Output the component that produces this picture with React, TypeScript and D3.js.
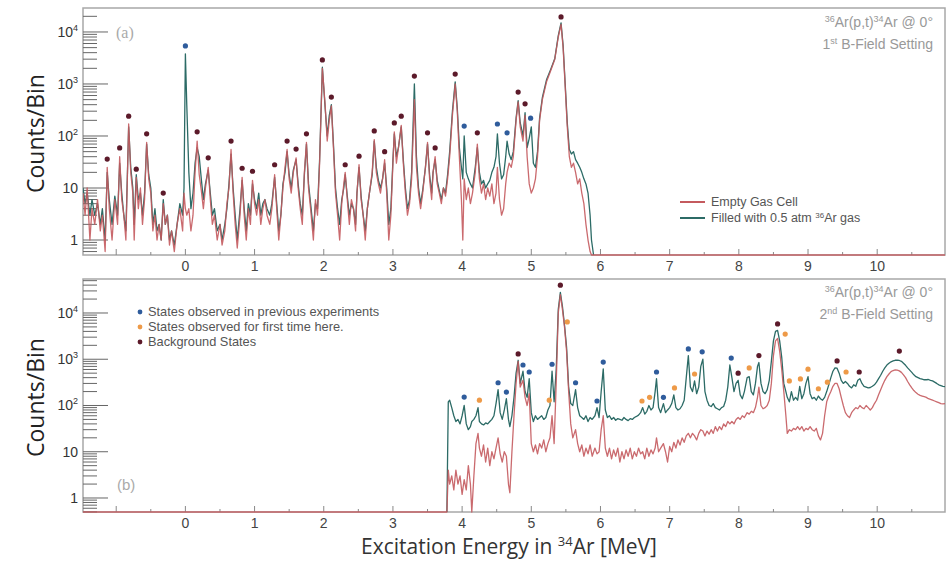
import React, { useEffect, useRef } from 'react';
import * as d3 from 'd3';

const W = 948;
const H = 562;
const NaNv = NaN;

// ---------- Panel (a): 1st B-field setting ----------
const TOP_E = [
  -1.48, -1.45, -1.42, -1.38, -1.35, -1.31, -1.27, -1.23, -1.2, -1.16,
  -1.13, -1.1, -1.06, -1.02, -0.98, -0.95, -0.92, -0.89, -0.86, -0.82,
  -0.79, -0.76, -0.74, -0.71, -0.68, -0.65, -0.62, -0.59, -0.56, -0.53,
  -0.5, -0.47, -0.44, -0.41, -0.38, -0.35, -0.32, -0.29, -0.26, -0.23,
  -0.2, -0.16, -0.12, -0.08, -0.04, -0.02, 0.0, 0.02, 0.05, 0.08,
  0.11, 0.14, 0.17, 0.2, 0.23, 0.26, 0.29, 0.33, 0.36, 0.39,
  0.42, 0.46, 0.5, 0.53, 0.57, 0.6, 0.63, 0.66, 0.69, 0.72,
  0.75, 0.79, 0.82, 0.85, 0.88, 0.91, 0.94, 0.97, 1.0, 1.03,
  1.06, 1.09, 1.12, 1.15, 1.18, 1.22, 1.25, 1.29, 1.32, 1.35,
  1.38, 1.41, 1.44, 1.47, 1.5, 1.53, 1.56, 1.6, 1.63, 1.66,
  1.69, 1.72, 1.75, 1.78, 1.81, 1.85, 1.88, 1.91, 1.94, 1.98,
  2.02, 2.05, 2.08, 2.11, 2.14, 2.17, 2.2, 2.23, 2.26, 2.29,
  2.31, 2.34, 2.37, 2.4, 2.43, 2.46, 2.48, 2.51, 2.54, 2.57,
  2.6, 2.63, 2.66, 2.7, 2.73, 2.76, 2.79, 2.82, 2.85, 2.88,
  2.91, 2.94, 2.97, 3.0, 3.02, 3.05, 3.08, 3.12, 3.15, 3.18,
  3.21, 3.24, 3.27, 3.31, 3.34, 3.37, 3.4, 3.43, 3.47, 3.5,
  3.53, 3.56, 3.58, 3.61, 3.64, 3.67, 3.7, 3.73, 3.76, 3.79,
  3.82, 3.86, 3.9, 3.93, 3.96, 3.99, 4.01, 4.03, 4.06, 4.09,
  4.12, 4.15, 4.19, 4.22, 4.25, 4.28, 4.31, 4.34, 4.37, 4.4,
  4.43, 4.46, 4.49, 4.51, 4.54, 4.57, 4.6, 4.63, 4.65, 4.68,
  4.71, 4.74, 4.78, 4.81, 4.84, 4.88, 4.91, 4.94, 4.97, 5.0,
  5.03, 5.06, 5.09, 5.12, 5.16, 5.22, 5.28, 5.34, 5.39, 5.43,
  5.46, 5.49, 5.52, 5.55, 5.58, 5.61, 5.64, 5.67, 5.7, 5.73,
  5.76, 5.79, 5.82, 5.85, 5.87, 5.9, 10.98,
];
const TOP_EMPTY = [
  8, 3, 10, 1, 4, 2, 6, 1.5, 3, 0.6,
  25, 4, 1, 6, 2, 40, 6, 3, 1, 170,
  20, 8, 1, 16, 4, 10, 2, 6, 75, 15,
  8, 1.5, 3, 1, 2, 1, 5, 2, 3, 0.8,
  1.5, 0.6, 2, 4, 1.5, 8, 4, 3, 4, 1.5,
  3, 20, 80, 18, 9, 4, 10, 25, 6, 2,
  3, 1, 2, 0.8, 1.5, 5, 10, 55, 8, 2,
  0.7, 3, 16, 3, 1, 4, 2, 14, 5, 3,
  6, 2, 4, 6, 3, 2, 4, 18, 4, 1,
  3, 10, 25, 55, 15, 8, 20, 38, 10, 4,
  2, 20, 75, 10, 4, 1, 6, 3, 30, 2000,
  400, 80, 200, 380, 60, 8, 3, 1, 5, 12,
  20, 6, 2, 6, 4, 1.5, 8, 28, 6, 3,
  1, 4, 8, 20, 85, 20, 12, 8, 15, 35,
  8, 1, 3, 30, 120, 30, 60, 160, 30, 8,
  3, 5, 15, 500, 25, 8, 4, 8, 25, 75,
  15, 6, 20, 40, 12, 8, 5, 10, 7, 15,
  40, 250, 1000, 300, 40, 6, 1, 15, 6, 10,
  5, 8, 20, 70, 15, 8, 12, 6, 10, 7,
  12, 5, 8, 25, 6, 3, 4, 12, 20, 30,
  25, 40, 200, 450, 150, 80, 250, 40, 12, 8,
  10, 15, 40, 200, 500, 1100, 1800, 3000, 8000, 14000,
  5000, 900, 150, 40, 25, 30, 20, 12, 15, 8,
  5, 2, 1, 0.6, 0, 0, 0,
];
const TOP_FILLED = [
  10, 5, 8, 3, 6, 3, 5, 2, 4, 1,
  20, 6, 2, 7, 3, 30, 8, 3, 1.5, 150,
  25, 10, 2, 18, 6, 8, 3, 8, 70, 18,
  10, 2, 4, 1.5, 2, 1, 6, 2, 3, 1,
  1.5, 0.8, 2, 5, 3, 10, 3800, 400, 20, 4,
  8, 30, 60, 40, 15, 6, 12, 22, 8, 3,
  4, 1.5, 2, 1, 2, 4, 12, 45, 10, 3,
  1, 4, 14, 4, 1.5, 5, 3, 12, 6, 4,
  8, 3, 5, 6, 4, 3, 5, 16, 5, 1.5,
  3, 12, 20, 50, 18, 10, 22, 35, 12, 5,
  3, 18, 70, 12, 5, 1.5, 5, 4, 35, 2100,
  350, 100, 250, 400, 70, 10, 4, 2, 6, 10,
  18, 7, 3, 5, 4, 2, 8, 25, 7, 3,
  1.5, 4, 8, 18, 80, 25, 14, 10, 15, 30,
  10, 2, 4, 35, 110, 40, 60, 150, 35, 10,
  4, 6, 20, 1000, 40, 10, 5, 9, 25, 70,
  18, 8, 20, 35, 14, 9, 6, 10, 8, 18,
  50, 300, 1100, 350, 60, 25, 15, 100, 20, 15,
  12, 10, 25, 60, 20, 12, 14, 10, 12, 14,
  20, 25, 40, 110, 30, 15, 18, 40, 80, 45,
  35, 50, 220, 480, 180, 100, 280, 60, 90, 150,
  30, 25, 50, 220, 550, 1200, 1900, 3100, 8500, 15000,
  5500, 1000, 180, 55, 45, 50, 35, 30, 25, 20,
  15, 12, 8, 3, 1, 0, NaNv,
];
const TOP_MARK_E = [
  -1.13, -0.95, -0.82, -0.71, -0.56, -0.32, 0.0, 0.17, 0.33, 0.66,
  0.82, 0.97, 1.29, 1.47, 1.6, 1.75, 1.98, 2.11, 2.31, 2.51,
  2.73, 2.88, 3.02, 3.12, 3.31, 3.5, 3.61, 3.9, 4.03, 4.22,
  4.51, 4.65, 4.81, 4.91, 4.99, 5.43,
];
const TOP_MARK_C = [
  36, 59, 240, 23, 110, 8, 5400, 120, 38, 80,
  24, 21, 28, 80, 56, 110, 2900, 560, 28, 41,
  125, 50, 178, 240, 1420, 115, 59, 1550, 155, 115,
  170, 115, 700, 415, 220, 19500,
];
const TOP_MARK_T = [
  'bg', 'bg', 'bg', 'bg', 'bg', 'bg', 'prev', 'bg', 'bg', 'bg',
  'bg', 'bg', 'bg', 'bg', 'bg', 'bg', 'bg', 'bg', 'bg', 'bg',
  'bg', 'bg', 'bg', 'bg', 'bg', 'bg', 'bg', 'bg', 'prev', 'bg',
  'prev', 'prev', 'bg', 'bg', 'prev', 'bg',
];

// ---------- Panel (b): 2nd B-field setting ----------
const BOT_E = [
  -1.48, 3.78, 3.8, 3.82, 3.85, 3.88, 3.91, 3.94, 3.97, 4.0,
  4.03, 4.06, 4.09, 4.12, 4.14, 4.17, 4.2, 4.23, 4.25, 4.28,
  4.31, 4.34, 4.37, 4.4, 4.43, 4.46, 4.49, 4.52, 4.55, 4.58,
  4.61, 4.64, 4.67, 4.69, 4.72, 4.75, 4.78, 4.81, 4.84, 4.88,
  4.91, 4.94, 4.97, 5.0, 5.03, 5.06, 5.09, 5.12, 5.15, 5.18,
  5.21, 5.24, 5.27, 5.3, 5.33, 5.36, 5.39, 5.42, 5.45, 5.48,
  5.51, 5.54, 5.57, 5.6, 5.64, 5.67, 5.7, 5.73, 5.76, 5.79,
  5.82, 5.85, 5.88, 5.92, 5.95, 5.98, 6.01, 6.04, 6.07, 6.1,
  6.13, 6.16, 6.19, 6.22, 6.25, 6.28, 6.31, 6.34, 6.37, 6.4,
  6.43, 6.46, 6.49, 6.52, 6.55, 6.58, 6.61, 6.64, 6.67, 6.7,
  6.73, 6.76, 6.79, 6.81, 6.84, 6.87, 6.91, 6.94, 6.97, 7.0,
  7.03, 7.06, 7.09, 7.12, 7.15, 7.18, 7.21, 7.24, 7.27, 7.3,
  7.33, 7.36, 7.39, 7.42, 7.45, 7.48, 7.51, 7.54, 7.57, 7.6,
  7.63, 7.66, 7.69, 7.72, 7.75, 7.78, 7.81, 7.84, 7.87, 7.9,
  7.93, 7.96, 7.99, 8.02, 8.05, 8.08, 8.12, 8.15, 8.18, 8.21,
  8.24, 8.27, 8.29, 8.32, 8.35, 8.38, 8.41, 8.44, 8.47, 8.5,
  8.53, 8.56, 8.59, 8.62, 8.65, 8.68, 8.7, 8.73, 8.76, 8.79,
  8.82, 8.85, 8.88, 8.91, 8.94, 8.97, 9.0, 9.03, 9.06, 9.09,
  9.12, 9.15, 9.18, 9.21, 9.24, 9.27, 9.3, 9.33, 9.36, 9.39,
  9.42, 9.45, 9.48, 9.51, 9.54, 9.57, 9.6, 9.63, 9.66, 9.69,
  9.72, 9.75, 9.78, 9.81, 9.84, 9.87, 9.9, 9.93, 9.96, 9.99,
  10.02, 10.05, 10.08, 10.11, 10.14, 10.17, 10.2, 10.23, 10.26, 10.29,
  10.32, 10.35, 10.38, 10.41, 10.44, 10.47, 10.5, 10.53, 10.56, 10.59,
  10.62, 10.65, 10.68, 10.71, 10.74, 10.77, 10.8, 10.83, 10.86, 10.89,
  10.92, 10.95, 10.98,
];
const BOT_EMPTY = [
  0, 0, 4, 2, 3, 1.5, 4, 2, 3, 1.2,
  2.5, 1.5, 5, 2, 0, 3, 15, 25, 12, 8,
  14, 6, 12, 5, 10, 7, 12, 20, 9, 6,
  10, 8, 2, 1.3, 10, 60, 300, 900, 250, 350,
  150, 100, 180, 15, 10, 14, 9, 15, 12, 18,
  10, 15, 20, 60, 15, 300, 10000, 25000, 12000, 5000,
  1500, 200, 40, 20, 30, 15, 10, 14, 8, 12,
  9, 14, 8, 12, 9, 10, 30, 60, 12, 8,
  12, 7, 11, 8, 12, 6, 10, 7, 11, 8,
  12, 7, 10, 8, 12, 9, 10, 7, 12, 8,
  11, 9, 12, 20, 10, 12, 15, 10, 6, 13,
  10, 16, 12, 18, 14, 20, 16, 22, 25, 20,
  25, 22, 18, 25, 30, 28, 22, 28, 24, 30,
  25, 35, 28, 35, 30, 40, 35, 45, 40, 45,
  40, 50, 55, 50, 60, 55, 70, 65, 75, 70,
  90, 150, 250, 100, 85, 90, 100, 130, 300, 1200,
  2500, 2800, 1500, 600, 200, 60, 25, 30, 28, 32,
  30, 35, 30, 35, 28, 32, 30, 35, 30, 28,
  32, 22, 18, 25, 60, 120, 160, 200, 260, 300,
  300, 230, 150, 100, 70, 60, 55, 70, 80, 90,
  85, 100, 90, 85, 100, 90, 80, 90, 110, 130,
  170, 220, 280, 350, 420, 480, 540, 570, 590, 580,
  560, 520, 460, 400, 330, 280, 240, 210, 190, 175,
  165, 160, 155, 150, 140, 135, 130, 125, 120, 115,
  110, 108, 110,
];
const BOT_FILLED = [
  NaNv, 0, 120, 130, 90, 60, 45, 50, 40, 60,
  100, 40, 30, 35, 45, 50, 60, 90, 45, 40,
  38, 42, 40, 45, 50, 60, 110, 220, 70, 50,
  80, 140, 50, 35, 60, 150, 500, 950, 300, 550,
  200, 150, 380, 70, 45, 60, 50, 55, 60, 50,
  55, 80, 100, 550, 120, 600, 12000, 28000, 14000, 5500,
  1800, 250, 110, 100, 220, 90, 60, 55, 50, 60,
  45, 55, 50, 60, 90, 55, 200, 620, 80, 55,
  60, 50, 55, 48, 52, 50, 48, 55, 50, 47,
  52, 50, 55, 58, 62, 70, 90, 65, 75, 100,
  80, 90, 200, 380, 90, 70, 110, 70, 80, 90,
  110, 170, 90, 80, 85, 100, 130, 400, 1200, 250,
  200, 340, 180, 250, 700, 1000, 200, 130, 100, 95,
  110, 90, 85, 80, 90, 95, 130, 250, 750, 400,
  200, 300, 350, 170, 140, 200, 400, 420, 200, 170,
  300, 700, 850, 300, 200, 180, 220, 350, 900, 2500,
  4000, 4200, 2500, 1100, 300, 200, 150, 120, 200, 130,
  150, 130, 260, 140, 180, 300, 420, 180, 140, 150,
  130, 160, 140, 130, 150, 200, 280, 400, 550, 650,
  640, 500, 350, 300, 330, 300, 260, 240, 280, 260,
  350, 380, 300, 260, 250, 240, 245, 260, 280, 320,
  380, 450, 550, 650, 750, 820, 880, 920, 950, 960,
  940, 900, 820, 740, 650, 580, 520, 460, 420, 400,
  380, 370, 360, 360, 365, 350, 340, 320, 300, 280,
  270, 260, 255,
];
const BOT_MARK_E = [
  4.03, 4.25, 4.52, 4.64, 4.81, 4.88, 4.97, 5.26, 5.3, 5.42,
  5.52, 5.64, 5.95, 6.04, 6.6, 6.71, 6.81, 6.91, 7.07, 7.27,
  7.36, 7.47, 7.89, 7.99, 8.15, 8.29, 8.56, 8.67, 8.73, 8.89,
  9.0, 9.15, 9.28, 9.42, 9.55, 9.74, 10.32,
];
const BOT_MARK_C = [
  152, 130, 310, 195, 1300, 750, 530, 130, 780, 40000,
  6400, 310, 125, 870, 125, 150, 530, 150, 240, 1670,
  480, 1450, 1060, 500, 650, 1200, 5800, 3500, 340, 375,
  610, 230, 320, 920, 530, 530, 1500,
];
const BOT_MARK_T = [
  'prev', 'new', 'prev', 'prev', 'bg', 'prev', 'prev', 'new', 'prev', 'bg',
  'new', 'prev', 'prev', 'prev', 'new', 'new', 'prev', 'prev', 'new', 'prev',
  'new', 'prev', 'prev', 'bg', 'new', 'bg', 'bg', 'new', 'new', 'new',
  'new', 'new', 'new', 'bg', 'new', 'bg', 'bg',
];

const X_TICKS = [0, 1, 2, 3, 4, 5, 6, 7, 8, 9, 10];
const LEGEND_LINES = ['Empty Gas Cell', 'Filled with 0.5 atm |36|Ar gas'];
const LEGEND_STATES = [
  'States observed in previous experiments',
  'States observed for first time here.',
  'Background States',
];

const RED = '#c45a5e';
const TEAL = '#2c6b66';
const MARK_COL: Record<string, string> = { prev: '#2f5c9c', new: '#ee9a48', bg: '#5c1a2a' };

export default function App() {
  const ref = useRef<SVGSVGElement>(null);
  useEffect(() => {
    document.body.style.margin = '0';
    const svg = d3.select(ref.current);
    svg.selectAll('*').remove();
    svg.append('rect').attr('width', W).attr('height', H).attr('fill', '#fff');

    const x = d3.scaleLinear().domain([-1.48, 10.98]).range([83, 945]);
    const left = 83;
    const right = 945;
    const sans = "'Liberation Sans', Arial, sans-serif";

    const panels = [
      {
        id: 'a', top: 8, bottom: 255, dom: [0.515, 28900],
        E: TOP_E, empty: TOP_EMPTY, filled: TOP_FILLED,
        mE: TOP_MARK_E, mC: TOP_MARK_C, mT: TOP_MARK_T,
      },
      {
        id: 'b', top: 279, bottom: 512, dom: [0.498, 54300],
        E: BOT_E, empty: BOT_EMPTY, filled: BOT_FILLED,
        mE: BOT_MARK_E, mC: BOT_MARK_C, mT: BOT_MARK_T,
      },
    ];

    const defs = svg.append('defs');

    panels.forEach((p) => {
      const y = d3.scaleLog().domain(p.dom).range([p.bottom, p.top]);
      const yv = (v: number) => y(Math.max(v, p.dom[0]));
      const g = svg.append('g');
      const clipId = 'clip-' + p.id;
      defs.append('clipPath').attr('id', clipId)
        .append('rect').attr('x', left).attr('y', p.top)
        .attr('width', right - left).attr('height', p.bottom - p.top + 1);

      // frame
      g.append('rect').attr('x', left).attr('y', p.top)
        .attr('width', right - left).attr('height', p.bottom - p.top)
        .attr('fill', 'none').attr('stroke', '#a8a8a8').attr('stroke-width', 1.5);

      // y ticks (log)
      for (let d = -1; d <= 4; d++) {
        for (let k = 1; k <= 9; k++) {
          const v = k * Math.pow(10, d);
          if (v < p.dom[0] || v > p.dom[1]) continue;
          const yy = y(v);
          g.append('line').attr('x1', left).attr('x2', left + (k === 1 ? 25 : 14))
            .attr('y1', yy).attr('y2', yy)
            .attr('stroke', '#666').attr('stroke-width', 1);
        }
      }
      const yLabels = [
        { v: 1, base: '1', sup: '' },
        { v: 10, base: '10', sup: '' },
        { v: 100, base: '10', sup: '2' },
        { v: 1000, base: '10', sup: '3' },
        { v: 10000, base: '10', sup: '4' },
      ];
      yLabels.forEach((l) => {
        const t = g.append('text').attr('x', 78).attr('y', y(l.v) + 5)
          .attr('text-anchor', 'end').attr('font-family', sans)
          .attr('font-size', 14).attr('fill', '#333');
        t.append('tspan').text(l.base);
        if (l.sup) {
          t.append('tspan').attr('dy', -6).attr('font-size', 9).text(l.sup);
        }
      });

      // x ticks
      for (let v = -1; v <= 10.5; v += 0.5) {
        const xx = x(v);
        const major = Math.abs(v - Math.round(v)) < 1e-6;
        g.append('line').attr('x1', xx).attr('x2', xx)
          .attr('y1', p.bottom).attr('y2', p.bottom - (major ? 6 : 3))
          .attr('stroke', '#888').attr('stroke-width', 1);
      }
      X_TICKS.forEach((v) => {
        g.append('text').attr('x', x(v)).attr('y', p.bottom + 16)
          .attr('text-anchor', 'middle').attr('font-family', sans)
          .attr('font-size', 14).attr('fill', '#444').text(String(v));
      });

      // lines
      const line = d3.line<number>()
        .defined((i) => !Number.isNaN(p.filled[i]))
        .x((i) => x(p.E[i]))
        .y((i) => yv(p.filled[i]));
      const lineR = d3.line<number>()
        .defined((i) => !Number.isNaN(p.empty[i]))
        .x((i) => x(p.E[i]))
        .y((i) => yv(p.empty[i]));
      const idx = d3.range(p.E.length);
      const lg = g.append('g').attr('clip-path', `url(#${clipId})`);
      lg.append('path').attr('d', line(idx) || '').attr('fill', 'none')
        .attr('stroke', TEAL).attr('stroke-width', 1.3).attr('stroke-linejoin', 'round');
      lg.append('path').attr('d', lineR(idx) || '').attr('fill', 'none')
        .attr('stroke', RED).attr('stroke-width', 1.3).attr('stroke-linejoin', 'round')
        .attr('opacity', 0.9);

      // markers
      p.mE.forEach((e, i) => {
        g.append('circle').attr('cx', x(e)).attr('cy', y(p.mC[i])).attr('r', 2.6)
          .attr('fill', MARK_COL[p.mT[i]]);
      });

      // y title
      g.append('text')
        .attr('transform', `translate(44, ${(p.top + p.bottom) / 2 + 2}) rotate(-90)`)
        .attr('text-anchor', 'middle').attr('font-family', "'Open Sans', sans-serif")
        .attr('font-size', 23).attr('fill', '#222').text('Counts/Bin');
    });

    // panel labels
    svg.append('text').attr('x', 116).attr('y', 38).attr('font-family', "'Liberation Serif', serif")
      .attr('font-size', 16).attr('fill', '#aaa').text('(a)');
    svg.append('text').attr('x', 117).attr('y', 490).attr('font-family', sans)
      .attr('font-size', 15).attr('fill', '#aaa').text('(b)');

    // reaction annotations
    const annot = (yy: number, setting: string, ord: string) => {
      const t1 = svg.append('text').attr('x', 933).attr('y', yy).attr('text-anchor', 'end')
        .attr('font-family', sans).attr('font-size', 14).attr('fill', '#999');
      t1.append('tspan').attr('font-size', 9).attr('dy', -5).text('36');
      t1.append('tspan').attr('dy', 5).text('Ar(p,t)');
      t1.append('tspan').attr('font-size', 9).attr('dy', -5).text('34');
      t1.append('tspan').attr('dy', 5).text('Ar @ 0°');
      const t2 = svg.append('text').attr('x', 933).attr('y', yy + 22).attr('text-anchor', 'end')
        .attr('font-family', sans).attr('font-size', 14).attr('fill', '#999');
      t2.append('tspan').text(setting);
      t2.append('tspan').attr('font-size', 9).attr('dy', -5).text(ord);
      t2.append('tspan').attr('dy', 5).text(' B-Field Setting');
    };
    annot(27, '1', 'st');
    annot(297, '2', 'nd');

    // legend (a)
    LEGEND_LINES.forEach((label, i) => {
      const yy = 202 + i * 16;
      svg.append('line').attr('x1', 680).attr('x2', 705).attr('y1', yy).attr('y2', yy)
        .attr('stroke', i === 0 ? RED : TEAL).attr('stroke-width', 2);
      const t = svg.append('text').attr('x', 711).attr('y', yy + 4).attr('font-family', sans)
        .attr('font-size', 12.5).attr('fill', '#555');
      const parts = label.split('|');
      parts.forEach((s, j) => {
        if (j % 2 === 1) t.append('tspan').attr('font-size', 8).attr('dy', -4).text(s);
        else t.append('tspan').attr('dy', j > 0 ? 4 : 0).text(s);
      });
    });

    // legend (b)
    LEGEND_STATES.forEach((label, i) => {
      const yy = 312 + i * 15;
      svg.append('circle').attr('cx', 140).attr('cy', yy).attr('r', 2.4)
        .attr('fill', MARK_COL[['prev', 'new', 'bg'][i]]);
      svg.append('text').attr('x', 148).attr('y', yy + 4).attr('font-family', sans)
        .attr('font-size', 12.8).attr('fill', '#555').text(label);
    });

    // x title
    const xt = svg.append('text').attr('x', 509).attr('y', 554).attr('text-anchor', 'middle')
      .attr('font-family', "'Open Sans', sans-serif").attr('font-size', 21).attr('fill', '#333');
    xt.append('tspan').text('Excitation Energy in ');
    xt.append('tspan').attr('font-size', 13).attr('dy', -8).text('34');
    xt.append('tspan').attr('dy', 8).text('Ar [MeV]');
  }, []);
  return <svg ref={ref} width={W} height={H} style={{ display: 'block' }} />;
}
